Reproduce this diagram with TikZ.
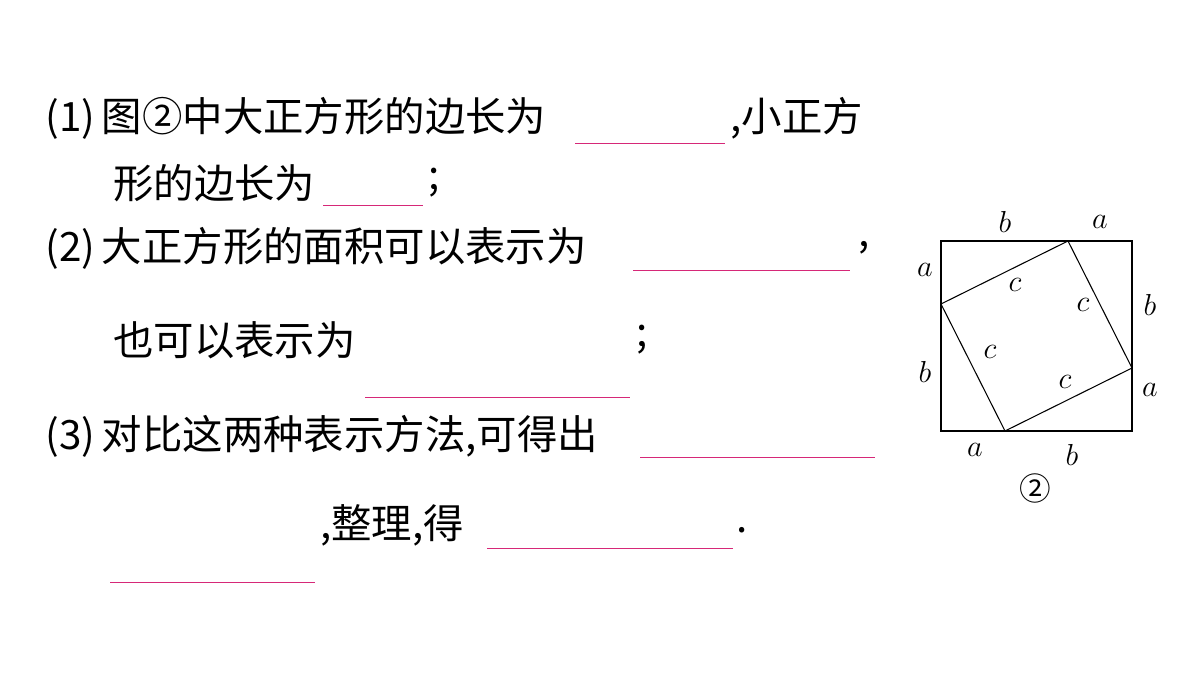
\documentclass[tikz,border=0pt]{standalone}
\usepackage{fontspec}
\newfontfamily\cjk{Noto Sans CJK SC}
\usetikzlibrary{positioning}
\definecolor{blankred}{RGB}{214,40,120}
\tikzset{
  zh/.style={anchor=west, inner sep=0pt, font=\cjk\fontsize{23}{23}\selectfont},
  blank/.style={blankred, line width=0.5pt},
  lbl/.style={inner sep=0pt, font=\fontsize{17}{17}\selectfont}
}
\begin{document}
\begin{tikzpicture}[x=0.02cm, y=-0.02cm]
\useasboundingbox (0,0) rectangle (1200,675);

% text lines
{
\node[zh] (l1) at (45,118) {(1)\,图②中大正方形的边长为};
\node[zh] (l1b) at (730,118) {,小正方};
\node[zh] (l2) at (113,183) {形的边长为};
\node[zh] (l2b) at (428,183) {;};
\node[zh] (l3) at (45,248) {(2)\,大正方形的面积可以表示为};
\node[zh] (l3b) at (858,248) {,};
\node[zh] (l4) at (113,340) {也可以表示为};
\node[zh] (l4b) at (636,340) {;};
\node[zh] (l5) at (45,436) {(3)\,对比这两种表示方法,可得出};
\node[zh] (l6) at (320,525) {,整理,得};
\node[zh] (l6b) at (736,530) {.};
}

% blanks
{
\draw[blank] (575,143)--(725,143);
\draw[blank] (323,205)--(423,205);
\draw[blank] (633,270)--(850,270);
\draw[blank] (365,397)--(630,397);
\draw[blank] (640,457)--(875,457);
\draw[blank] (487,548)--(733,548);
\draw[blank] (110,582)--(315,582);
}

% squares
\coordinate (A) at (941,241);
\coordinate (B) at (1132,241);
\coordinate (C) at (1132,431);
\coordinate (D) at (941,431);
\coordinate (P) at (1068,241);
\coordinate (Q) at (1132,368);
\coordinate (R) at (1005,431);
\coordinate (S) at (941,304);
\draw[line width=0.6pt] (A)--(B)--(C)--(D)--cycle;
\draw[line width=0.6pt] (P)--(Q)--(R)--(S)--cycle;

% nodes
{
\node[lbl] at (1005,222) {$b$};
\node[lbl] at (1100,222) {$a$};
\node[lbl] at (925,270) {$a$};
\node[lbl] at (925,372) {$b$};
\node[lbl] at (1150,305) {$b$};
\node[lbl] at (1150,390) {$a$};
\node[lbl] at (975,450) {$a$};
\node[lbl] at (1072,455) {$b$};
\node[lbl] at (1015,285) {$c$};
\node[lbl] at (1083,305) {$c$};
\node[lbl] at (990,352) {$c$};
\node[lbl] at (1065,382) {$c$};
\node[inner sep=0pt, font=\cjk\fontsize{18}{18}\selectfont] at (1035,488) {②};
}

\end{tikzpicture}
\end{document}
